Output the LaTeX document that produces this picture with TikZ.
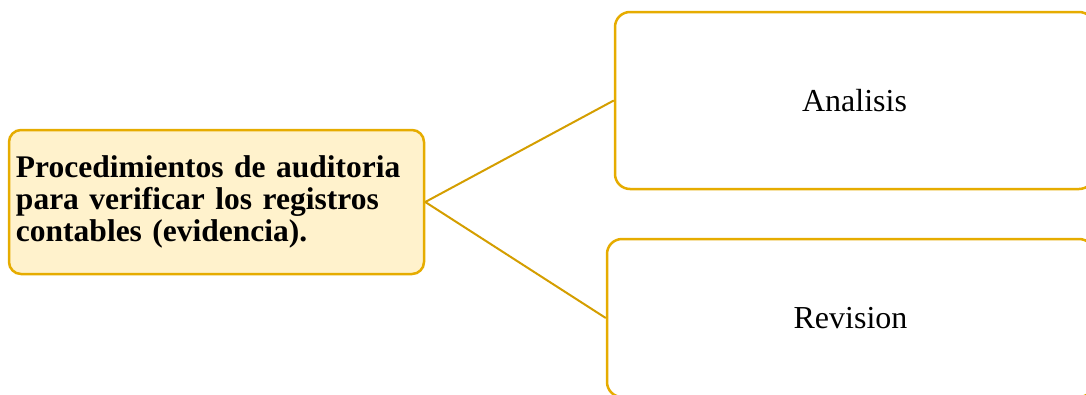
\documentclass[tikz,border=0pt]{standalone}
\usepackage{fontspec}
\setmainfont{Liberation Serif}
\definecolor{gold}{RGB}{230,172,0}
\definecolor{paleyellow}{RGB}{255,242,204}
\begin{document}
\begin{tikzpicture}[x=1pt,y=-1pt,
  box/.style={draw=gold,line width=2.5pt,rounded corners=12pt,inner sep=0pt},
  link/.style={draw=gold!92!black,line width=2pt}]
\useasboundingbox (0,0) rectangle (1086,394);
\clip (0,0) rectangle (1086,394);
\node[box,fill=paleyellow,minimum width=415pt,minimum height=144pt,
  text width=401pt,align=left,font=\fontsize{31.5}{32}\selectfont\bfseries]
  (root) at (216.5,202) {Procedimientos de auditoria\\para verificar los registros\\contables (evidencia).};
\node[box,fill=white,minimum width=479pt,minimum height=177pt,
  font=\fontsize{32}{34}\selectfont,rounded corners=15pt] (ana) at (854.5,100.5) {Analisis};
\node[box,fill=white,minimum width=487pt,minimum height=158pt,
  font=\fontsize{32}{34}\selectfont,rounded corners=15pt] (rev) at (850.5,318) {Revision};
\draw[link] (root.east) -- (ana.west);
\draw[link] (root.east) -- (rev.west);
\end{tikzpicture}
\end{document}
